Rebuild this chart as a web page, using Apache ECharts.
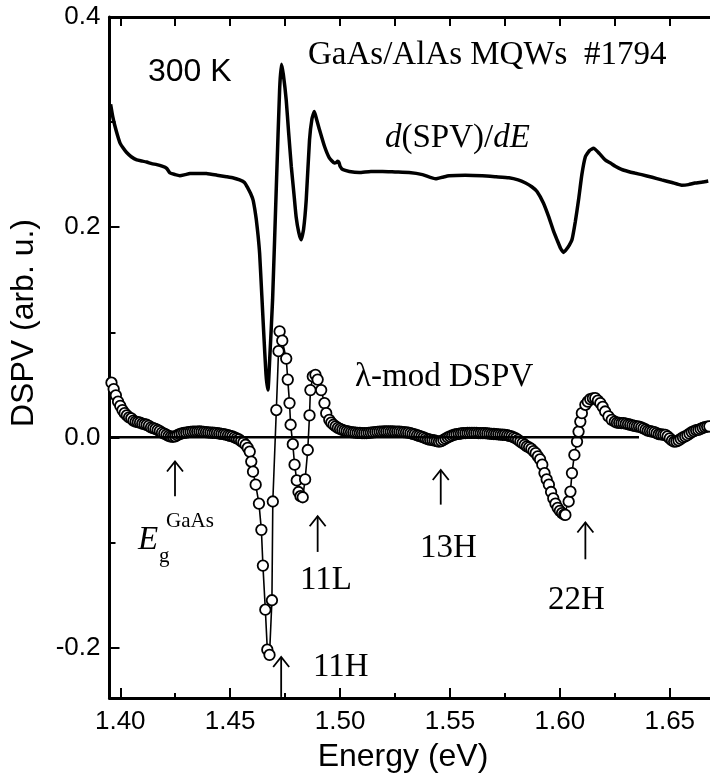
<!DOCTYPE html>
<html>
<head>
<meta charset="utf-8">
<script src="https://cdn.jsdelivr.net/npm/echarts@6/dist/echarts.min.js"></script>
<style>
html,body{margin:0;padding:0;background:#fff;}
#chart{width:710px;height:778px;}
</style>
</head>
<body>
<div id="chart"></div>
<script>
// ---------------- data ----------------
// d(SPV)/dE curve (energy in eV, signal in arb. u.)
const dspvEnergy = [1.3956,1.3966,1.3976,1.3988,1.3999,1.4014,1.4029,1.4050,1.4075,1.4098,1.4120,1.4143,1.4166,1.4190,1.4211,1.4226,1.4250,1.4271,1.4295,1.4317,1.4355,1.4392,1.4440,1.4483,1.4515,1.4543,1.4565,1.4581,1.4593,1.4604,1.4612,1.4619,1.4627,1.4634,1.4644,1.4652,1.4663,1.4672,1.4680,1.4693,1.4711,1.4725,1.4733,1.4742,1.4755,1.4766,1.4778,1.4790,1.4800,1.4812,1.4823,1.4834,1.4846,1.4861,1.4872,1.4883,1.4894,1.4906,1.4929,1.4951,1.4974,1.4983,1.4989,1.4995,1.5000,1.5012,1.5042,1.5087,1.5140,1.5193,1.5250,1.5314,1.5375,1.5435,1.5465,1.5496,1.5570,1.5647,1.5710,1.5768,1.5810,1.5844,1.5872,1.5896,1.5925,1.5949,1.5970,1.5987,1.6003,1.6017,1.6030,1.6043,1.6055,1.6070,1.6085,1.6100,1.6116,1.6135,1.6153,1.6180,1.6206,1.6230,1.6252,1.6280,1.6311,1.6340,1.6372,1.6420,1.6463,1.6510,1.6554,1.6585,1.6614,1.6650,1.6675];
const dspvValue = [0.317,0.305,0.296,0.287,0.280,0.275,0.271,0.267,0.264,0.263,0.262,0.2605,0.2595,0.258,0.256,0.2516,0.2500,0.249,0.250,0.251,0.2512,0.251,0.2495,0.248,0.2468,0.245,0.2425,0.237,0.232,0.226,0.217,0.207,0.192,0.175,0.135,0.102,0.060,0.045,0.075,0.131,0.245,0.331,0.355,0.345,0.321,0.290,0.258,0.232,0.210,0.195,0.188,0.198,0.226,0.283,0.303,0.310,0.302,0.293,0.277,0.266,0.261,0.2615,0.2627,0.2615,0.258,0.2548,0.253,0.252,0.253,0.253,0.2525,0.252,0.250,0.246,0.2475,0.249,0.2495,0.249,0.248,0.247,0.245,0.242,0.2385,0.234,0.223,0.210,0.197,0.188,0.180,0.176,0.179,0.183,0.188,0.205,0.226,0.250,0.267,0.273,0.275,0.270,0.264,0.261,0.258,0.255,0.253,0.2515,0.250,0.2475,0.245,0.2425,0.240,0.2405,0.242,0.243,0.244];

// lambda-modulated DSPV (open circles)
const lamEnergy = [1.396,1.397,1.398,1.399,1.400,1.401,1.402,1.403,1.404,1.405,1.406,1.407,1.408,1.409,1.410,1.411,1.412,1.413,1.414,1.415,1.416,1.417,1.418,1.419,1.420,1.421,1.422,1.423,1.424,1.425,1.426,1.427,1.428,1.429,1.430,1.431,1.432,1.433,1.434,1.435,1.436,1.437,1.438,1.439,1.440,1.441,1.442,1.443,1.444,1.445,1.446,1.447,1.448,1.449,1.450,1.451,1.452,1.453,1.454,1.455,1.456,1.457,1.458,
1.4589,1.4596,1.4604,1.4616,1.4631,1.4642,1.4649,1.4660,1.4669,1.4679,1.4690,1.4694,1.4710,1.4720,1.4725,1.4737,1.4755,1.4762,1.4770,1.4775,1.4785,1.4793,1.4803,1.4811,1.4820,1.4830,1.4841,1.4853,1.4861,1.4865,1.4876,1.4888,1.4898,1.4914,1.4929,1.4937,1.4951,
1.496,1.497,1.498,1.499,1.500,1.501,1.502,1.503,1.504,1.505,1.506,1.507,1.508,1.509,1.510,1.511,1.512,1.513,1.514,1.515,1.516,1.517,1.518,1.519,1.520,1.521,1.522,1.523,1.524,1.525,1.526,1.527,1.528,1.529,1.530,1.531,1.532,1.533,1.534,1.535,1.536,1.537,1.538,1.539,1.540,1.541,1.542,1.543,1.544,1.545,1.546,1.547,1.548,1.549,1.550,1.551,1.552,1.553,1.554,1.555,1.556,1.557,1.558,1.559,1.560,1.561,1.562,1.563,1.564,1.565,1.566,1.567,1.568,1.569,1.570,1.571,1.572,1.573,1.574,1.575,1.576,1.577,1.578,1.579,1.580,1.581,1.582,1.583,1.584,1.585,1.586,1.587,1.588,1.589,1.590,1.591,1.592,1.593,1.594,1.595,1.596,1.597,1.598,1.599,1.600,1.601,1.602,
1.6025,1.6040,1.6048,1.6055,1.6066,1.6078,1.6085,1.6093,1.6100,1.6116,1.6127,1.6138,1.6150,1.6161,1.6173,1.6184,1.6195,1.6206,1.6221,1.6236,
1.625,1.626,1.627,1.628,1.629,1.630,1.631,1.632,1.633,1.634,1.635,1.636,1.637,1.638,1.639,1.640,1.641,1.642,1.643,1.644,1.645,1.646,1.647,1.648,1.649,1.650,1.651,1.652,1.653,1.654,1.655,1.656,1.657,1.658,1.659,1.660,1.661,1.662,1.663,1.664,1.665,1.666,1.667,1.668];
const lamValue = [0.052,0.046,0.040,0.034,0.030,0.026,0.023,0.021,0.019,0.018,0.016,0.015,0.0145,0.014,0.013,0.0125,0.012,0.011,0.0095,0.0088,0.008,0.007,0.006,0.0045,0.0035,0.0025,0.0015,0.0008,0.0006,0.001,0.002,0.003,0.0038,0.0043,0.0046,0.005,0.0052,0.0054,0.0055,0.0055,0.0056,0.0054,0.0053,0.005,0.0048,0.0046,0.0044,0.0042,0.004,0.0037,0.0034,0.003,0.0026,0.002,0.0014,0.001,0.0,-0.001,-0.002,-0.0035,-0.005,-0.007,-0.010,
-0.0135,-0.023,-0.0326,-0.045,-0.063,-0.088,-0.122,-0.164,-0.202,-0.207,-0.155,-0.061,0.026,0.082,0.1008,0.092,0.075,0.055,0.0326,0.012,-0.0065,-0.026,-0.041,-0.052,-0.056,-0.057,-0.040,-0.012,0.021,0.045,0.058,0.0595,0.055,0.045,0.0326,0.023,0.0167,
0.014,0.012,0.0105,0.009,0.008,0.0072,0.0065,0.006,0.0055,0.005,0.0048,0.0045,0.0043,0.0042,0.004,0.004,0.0041,0.0043,0.0045,0.0047,0.005,0.0052,0.0054,0.0055,0.0056,0.0056,0.0057,0.0056,0.0056,0.0055,0.0055,0.0054,0.0052,0.005,0.0048,0.0045,0.004,0.0034,0.0028,0.002,0.0014,0.0008,0.0,-0.001,-0.0018,-0.0022,-0.0026,-0.003,-0.0035,-0.004,-0.0035,-0.0025,-0.0012,0.0,0.001,0.0018,0.0025,0.003,0.0034,0.0037,0.004,0.0041,0.0042,0.0042,0.0043,0.0042,0.0042,0.0041,0.004,0.004,0.004,0.0038,0.0036,0.0034,0.0032,0.003,0.0029,0.0027,0.0025,0.0024,0.002,0.0015,0.001,0.0,-0.001,-0.0024,-0.004,-0.0055,-0.007,-0.0085,-0.0095,-0.011,-0.013,-0.015,-0.018,-0.021,-0.026,-0.034,-0.040,-0.045,-0.052,-0.058,-0.063,-0.067,-0.070,-0.072,-0.0735,
-0.0738,-0.061,-0.0516,-0.034,-0.0167,-0.004,0.0055,0.015,0.023,0.031,0.034,0.0364,0.0372,0.0373,0.035,0.0326,0.029,0.0246,0.020,0.0167,
0.015,0.014,0.0138,0.0135,0.0135,0.013,0.0125,0.012,0.0115,0.011,0.0105,0.0103,0.0095,0.0085,0.0075,0.0065,0.006,0.0055,0.005,0.004,0.003,0.0028,0.0025,0.0024,0.001,-0.001,-0.003,-0.004,-0.0038,-0.003,-0.0015,0.0,0.001,0.002,0.0035,0.005,0.006,0.0068,0.0071,0.008,0.009,0.0098,0.0103,0.0105];

// zero reference line
const zeroLineEnergy = [1.3951, 1.636];
const zeroLineValue = [0, 0];

// transition markers: energy, arrow tail value, arrow tip value
const arrowEnergy = [1.4249, 1.4898, 1.4732, 1.5458, 1.6116];
const arrowTail = [-0.056, -0.109, -0.247, -0.064, -0.116];
const arrowTip = [-0.023, -0.075, -0.209, -0.031, -0.081];

// axes
const xMin = 1.3951, xMax = 1.6683;
const yMin = -0.248, yMax = 0.4;
const xMajorTicks = [1.40, 1.45, 1.50, 1.55, 1.60, 1.65];
const xMinorTicks = [1.425, 1.475, 1.525, 1.575, 1.625];
const xTopTicks = [1.40, 1.425, 1.45, 1.475, 1.50, 1.525, 1.55, 1.575, 1.60, 1.625, 1.65];
const yMajorTicks = [-0.2, 0.0, 0.2, 0.4];
const yMinorTicks = [-0.1, 0.1, 0.3];

// ---------------- chart ----------------
const zip = (a, b) => a.map((v, i) => [v, b[i]]);
const SANS = "Arial, 'Liberation Sans', sans-serif";
const SERIF = "'Times New Roman', 'Liberation Serif', serif";

const chart = echarts.init(document.getElementById('chart'), null, {renderer: 'canvas'});

const baseX = {type: 'value', min: xMin, max: xMax, splitLine: {show: false}};
const baseY = {type: 'value', min: yMin, max: yMax, splitLine: {show: false}};

const option = {
  animation: false,
  backgroundColor: '#fff',
  grid: {left: 109.5, top: 17, width: 602.5, height: 681, containLabel: false},
  xAxis: [
    Object.assign({}, baseX, {
      position: 'bottom',
      axisLine: {show: true, onZero: false, lineStyle: {color: '#000', width: 3}},
      axisTick: {show: true, inside: true, length: 10, lineStyle: {color: '#000', width: 2}, customValues: xMajorTicks},
      axisLabel: {show: true, margin: 11, color: '#000', fontFamily: SANS, fontSize: 26,
        customValues: xMajorTicks, formatter: v => v.toFixed(2)}
    }),
    Object.assign({}, baseX, {
      position: 'bottom',
      axisLine: {show: false, onZero: false},
      axisTick: {show: true, inside: true, length: 5, lineStyle: {color: '#000', width: 2}, customValues: xMinorTicks},
      axisLabel: {show: false}
    }),
    Object.assign({}, baseX, {
      position: 'top',
      axisLine: {show: true, onZero: false, lineStyle: {color: '#000', width: 3}},
      axisTick: {show: true, inside: true, length: 9, lineStyle: {color: '#000', width: 2}, customValues: xTopTicks},
      axisLabel: {show: false}
    })
  ],
  yAxis: [
    Object.assign({}, baseY, {
      position: 'left',
      axisLine: {show: true, onZero: false, lineStyle: {color: '#000', width: 3}},
      axisTick: {show: true, inside: true, length: 10, lineStyle: {color: '#000', width: 2}, customValues: yMajorTicks},
      axisLabel: {show: true, margin: 9, color: '#000', fontFamily: SANS, fontSize: 26,
        customValues: yMajorTicks, formatter: v => v.toFixed(1)}
    }),
    Object.assign({}, baseY, {
      position: 'left',
      axisLine: {show: false, onZero: false},
      axisTick: {show: true, inside: true, length: 6, lineStyle: {color: '#000', width: 2}, customValues: yMinorTicks},
      axisLabel: {show: false}
    })
  ],
  series: [
    {
      name: 'd(SPV)/dE', type: 'line', xAxisIndex: 0, yAxisIndex: 0,
      data: zip(dspvEnergy, dspvValue), showSymbol: false, smooth: 0.15,
      lineStyle: {color: '#000', width: 3.5}, z: 2
    },
    {
      name: 'lambda-mod DSPV', type: 'line', xAxisIndex: 0, yAxisIndex: 0,
      data: zip(lamEnergy, lamValue), symbol: 'circle', symbolSize: 10.5, showAllSymbol: true,
      itemStyle: {color: '#fff', borderColor: '#000', borderWidth: 1.8},
      lineStyle: {color: '#000', width: 1.6}, z: 3
    },
    {
      name: 'zero', type: 'line', xAxisIndex: 0, yAxisIndex: 0,
      data: zip(zeroLineEnergy, zeroLineValue), showSymbol: false,
      lineStyle: {color: '#000', width: 2.5}, z: 4
    },
    {
      name: 'arrows', type: 'custom', xAxisIndex: 0, yAxisIndex: 0, z: 5,
      data: arrowEnergy.map((e, i) => [e, arrowTail[i], arrowTip[i]]),
      renderItem: function (params, api) {
        const tail = api.coord([api.value(0), api.value(1)]);
        const tip = api.coord([api.value(0), api.value(2)]);
        return {
          type: 'group',
          children: [
            {type: 'line', shape: {x1: tail[0], y1: tail[1], x2: tip[0], y2: tip[1]},
              style: {stroke: '#000', lineWidth: 1.8}},
            {type: 'polyline', shape: {points: [[tip[0] - 8, tip[1] + 10], [tip[0], tip[1]], [tip[0] + 8, tip[1] + 10]]},
              style: {stroke: '#000', lineWidth: 1.8, fill: null}}
          ]
        };
      }
    }
  ],
  graphic: [
    {type: 'text', x: 24, y: 323, rotation: Math.PI / 2,
      style: {text: 'DSPV (arb. u.)', font: '32px ' + SANS, fill: '#000', align: 'center', verticalAlign: 'middle'}},
    {type: 'text', x: 403, y: 757,
      style: {text: 'Energy (eV)', font: '32px ' + SANS, fill: '#000', align: 'center', verticalAlign: 'middle'}},
    {type: 'text', x: 148, y: 72,
      style: {text: '300 K', font: '32px ' + SANS, fill: '#000', align: 'left', verticalAlign: 'middle'}},
    {type: 'text', x: 308, y: 55,
      style: {text: 'GaAs/AlAs MQWs  #1794', font: '33px ' + SERIF, fill: '#000', align: 'left', verticalAlign: 'middle'}},
    {type: 'text', x: 385, y: 138,
      style: {text: '{i|d}(SPV)/{i|dE}', font: '33px ' + SERIF, fill: '#000', align: 'left', verticalAlign: 'middle',
        rich: {i: {fontStyle: 'italic', fontFamily: SERIF, fontSize: 33, fill: '#000'}}}},
    {type: 'text', x: 355, y: 377,
      style: {text: 'λ-mod DSPV', font: '33px ' + SERIF, fill: '#000', align: 'left', verticalAlign: 'middle'}},
    {type: 'text', x: 138, y: 540,
      style: {text: 'E', font: 'italic 33px ' + SERIF, fill: '#000', align: 'left', verticalAlign: 'middle'}},
    {type: 'text', x: 159, y: 556,
      style: {text: 'g', font: '21px ' + SERIF, fill: '#000', align: 'left', verticalAlign: 'middle'}},
    {type: 'text', x: 166, y: 521,
      style: {text: 'GaAs', font: '21px ' + SERIF, fill: '#000', align: 'left', verticalAlign: 'middle'}},
    {type: 'text', x: 300, y: 580,
      style: {text: '11L', font: '33px ' + SERIF, fill: '#000', align: 'left', verticalAlign: 'middle'}},
    {type: 'text', x: 420, y: 548,
      style: {text: '13H', font: '33px ' + SERIF, fill: '#000', align: 'left', verticalAlign: 'middle'}},
    {type: 'text', x: 548, y: 600,
      style: {text: '22H', font: '33px ' + SERIF, fill: '#000', align: 'left', verticalAlign: 'middle'}},
    {type: 'text', x: 313, y: 667,
      style: {text: '11H', font: '33px ' + SERIF, fill: '#000', align: 'left', verticalAlign: 'middle'}}
  ]
};
chart.setOption(option);
</script>
</body>
</html>
